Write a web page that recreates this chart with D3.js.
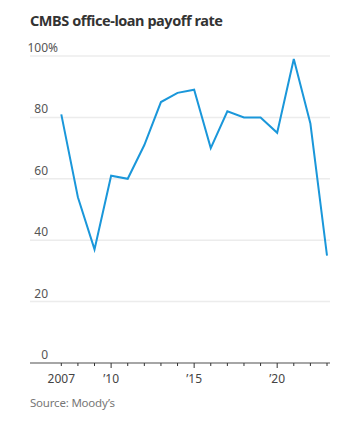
<!DOCTYPE html>
<html><head><meta charset="utf-8">
<script src="https://cdn.jsdelivr.net/npm/d3@7"></script>
<style>body{margin:0;background:#fff;}svg{display:block;}</style>
</head><body>
<svg id="c" width="359" height="427"></svg>
<script>
const years = [2007,2008,2009,2010,2011,2012,2013,2014,2015,2016,2017,2018,2019,2020,2021,2022,2023];
const payoffRate = [81,54,37,61,60,71,85,88,89,70,82,80,80,75,99,78,35];
const yTicks = [0,20,40,60,80,100];
const xMajor = [2007,2010,2015,2020];
const xLabels = ["2007","\u201910","\u201915","\u201920"];

const svg = d3.select("#c");
const font = "'Noto Sans', sans-serif";
const x = d3.scaleLinear().domain([2007,2023]).range([61.3,327]);
const y = d3.scaleLinear().domain([0,100]).range([363,56]);
const left = 30, right = 330;

svg.append("text").attr("x",30).attr("y",26).attr("font-family",font)
  .attr("font-weight","bold").attr("font-size",14.5).attr("fill","#333")
  .attr("letter-spacing","-0.45").text("CMBS office-loan payoff rate");

// gridlines
svg.selectAll(".grid").data(yTicks.filter(d=>d>0)).enter().append("line")
  .attr("x1",left).attr("x2",right).attr("y1",d=>y(d)).attr("y2",d=>y(d))
  .attr("stroke","#ececec").attr("stroke-width",1.5);

// y labels
svg.selectAll(".yl").data(yTicks).enter().append("text")
  .attr("x",48).attr("y",d=>y(d)-4).attr("text-anchor","end")
  .attr("font-family",font).attr("font-size",12).attr("fill","#555")
  .text(d=>d);
svg.append("text").attr("x",48).attr("y",y(100)-4).attr("font-family",font)
  .attr("font-size",12).attr("fill","#555").text("%");

// x axis
svg.append("line").attr("x1",left).attr("x2",right).attr("y1",363).attr("y2",363)
  .attr("stroke","#888").attr("stroke-width",1.5);
svg.selectAll(".xt").data(years).enter().append("line")
  .attr("x1",d=>x(d)).attr("x2",d=>x(d)).attr("y1",363)
  .attr("y2",d=>xMajor.includes(d)&&d!==2007?368:366)
  .attr("stroke","#333").attr("stroke-width",1);
svg.selectAll(".xl").data(xMajor).enter().append("text")
  .attr("x",d=>x(d)).attr("y",383).attr("text-anchor","middle")
  .attr("font-family",font).attr("font-size",12).attr("fill","#444")
  .text((d,i)=>xLabels[i]);

// line
const line = d3.line().x((d,i)=>x(years[i])).y(d=>y(d));
svg.append("path").datum(payoffRate).attr("d",line).attr("fill","none")
  .attr("stroke","#1a97da").attr("stroke-width",2).attr("stroke-linejoin","miter");

svg.append("text").attr("x",30).attr("y",407).attr("font-family",font)
  .attr("font-size",11.5).attr("letter-spacing","-0.2").attr("fill","#777").text("Source: Moody\u2019s");
</script>
</body></html>
